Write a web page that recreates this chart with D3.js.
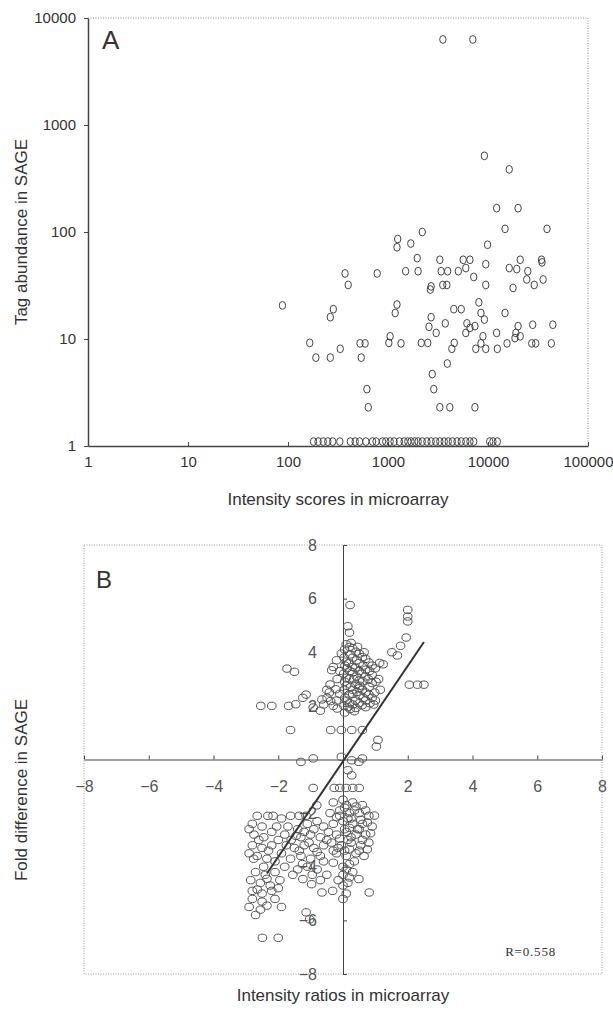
<!DOCTYPE html>
<html>
<head>
<meta charset="utf-8">
<script src="https://cdn.jsdelivr.net/npm/d3@7"></script>
<style>
  body { margin: 0; background: #fff; }
  text { font-family: "Liberation Sans", Arial, sans-serif; fill: #333; }
  .axis path, .axis line { stroke: #444; }
</style>
</head>
<body>
<div id="chart"></div>
<script>
// ---- panel A data: microarray intensity vs SAGE tag count ----
var tickA = [1, 10, 100, 1000, 10000, 100000];
var tickAy = [1, 10, 100, 1000, 10000];
var pointsA = [
  [3540,6300],[7050,6300],[9200,515],[16300,385],
  [12200,167],[20000,167],[14800,107],[38900,107],[2200,100],
  [1250,86],[1230,72],[1690,78],[9900,76],[1960,57],[3300,55],[5650,55],[6600,55],[21000,55],[34300,55],[34700,52],
  [372,41],[780,41],[1500,43],[2000,43],[3400,43],[3950,43],[5050,43],[6000,46],[9500,50],[16300,46],[19400,45],[25000,43],
  [400,32],[2700,31],[2650,29],[3530,32],[3880,32],[7200,38],[9500,32],[17800,30],[24400,36],[29000,32],[35600,36],
  [88,20.6],[1230,21],[1180,17.5],[284,19],[265,16],[4550,19],[5400,19],[8100,22],[8500,17.5],[14800,17.5],
  [2700,16],[2570,13],[3740,14],[3030,11.4],[6150,14],[6600,12.7],[6000,11.4],[7400,13.2],[9200,15.2],[8900,10.6],
  [12200,11.4],[19000,11.4],[20000,13.2],[28000,13.6],[44500,13.6],
  [165,9.2],[190,6.7],[265,6.7],[333,8.1],[525,9.1],[590,9.1],[540,6.7],[1050,10.6],[1020,9.2],[1350,9.1],
  [2150,9.2],[2500,9.2],[4350,8.1],[4600,9.2],[7550,8.1],[8500,9.1],[9500,8.1],[12400,8.1],[15500,9.1],
  [18600,10.2],[21000,10.6],[27400,9.1],[30000,9.1],[43000,9.1],
  [2770,4.7],[3920,5.9],[2870,3.4],[615,3.4],[635,2.3],[3300,2.3],[4150,2.3],[7400,2.3]
];
// genes with a single tag, sitting on the bottom axis
var floorA = [180,200,225,250,280,330,420,470,520,600,700,760,880,950,1050,1150,1300,1450,1580,1700,
  1850,2000,2200,2450,2700,3000,3300,3650,4000,4400,4900,5400,6000,6600,7200,10400,11200,12400];
var floorValue = 1.1;

// ---- panel B data: log2 ratios ----
var tickB = [-8, -6, -4, -2, 2, 4, 6, 8];
var pointsB = [
  // upper group
  [0.22,5.76],[2.0,5.58],[2.0,5.33],[2.0,5.15],[0.15,4.97],[0.2,4.73],
  [1.95,4.55],[1.78,4.24],[1.51,4.0],[1.68,3.88],[1.13,3.6],[1.24,3.55],
  [-1.73,3.39],[-1.5,3.27],[-0.3,3.45],[-0.35,3.33],
  [2.05,2.79],[2.3,2.79],[2.5,2.79],
  [-2.54,2.0],[-2.2,2.0],[-1.68,2.0],[-1.46,2.06],[-1.24,2.3],[-1.14,2.42],
  [-0.92,1.94],[-0.7,1.82],[-0.65,2.24],[-0.49,2.3],
  [0.05,4.1],[0.03,3.8],[0.06,3.5],[0.02,3.2],[0.05,2.9],[0.04,2.6],[0.06,2.3],[0.03,2.0],[0.05,1.75],
  [0.2,4.2],[0.22,3.92],[0.18,3.6],[0.21,3.3],[0.2,3.02],[0.23,2.7],[0.19,2.42],[0.2,2.1],[0.22,1.88],
  [0.4,4.02],[0.42,3.7],[0.38,3.42],[0.41,3.1],[0.4,2.8],[0.43,2.52],[0.39,2.2],[0.4,1.92],
  [0.6,3.82],[0.62,3.5],[0.58,3.2],[0.61,2.92],[0.6,2.6],[0.63,2.3],[0.59,2.02],
  [0.8,3.62],[0.82,3.3],[0.78,3.0],[0.81,2.7],[0.8,2.42],[0.83,2.1],
  [1.0,3.4],[1.02,2.9],[0.98,2.5],[1.0,2.2],
  [-0.2,3.7],[-0.18,3.0],[-0.22,2.62],[-0.2,2.2],[-0.18,1.9],
  [-0.4,2.8],[-0.42,2.5],[-0.38,2.18],
  [0.3,3.8],[0.5,3.3],[0.7,2.5],[0.3,2.6],[0.5,2.1],[0.12,3.4],[0.33,3.0],[0.52,2.75],
  [0.1,4.3],[0.3,4.15],[0.5,3.95],[0.7,3.75],[0.9,3.5],[0.1,3.65],[0.3,3.45],[0.5,3.6],[0.7,3.35],
  [0.9,3.15],[0.1,3.05],[0.3,3.25],[0.5,2.95],[0.7,3.1],[0.9,2.85],[0.1,2.75],[0.3,2.45],[0.5,2.65],
  [0.7,2.2],[0.9,2.3],[0.1,2.2],[0.3,2.05],[0.5,2.4],[0.7,1.95],[0.15,1.95],[0.35,1.8],[-0.1,2.45],
  [-0.1,3.3],[-0.05,3.95],[0.25,4.35],[0.45,4.2],[0.65,4.0],[1.1,3.0],[1.15,2.6],[0.95,2.05],
  [-0.3,2.0],[-0.5,2.6],[-0.6,2.05],
  [-1.62,1.1],[-0.38,1.1],[-0.05,1.1],[0.27,1.1],[0.6,1.1],
  [1.08,0.73],[1.03,0.48],
  [-1.3,-0.09],[-0.92,0.04],[-0.05,0.1],[0.27,-0.03],[0.49,-0.09],[0.6,0.04],[0.15,-0.4],[0.27,-0.59],
  // lower group
  [-0.92,-1.06],[-0.27,-1.06],[-0.1,-1.06],[0.1,-1.06],[0.3,-1.06],[0.5,-1.06],[-0.81,-1.71],
  [-2.65,-2.1],[-2.32,-2.1],[-2.16,-2.1],[-2.8,-2.4],[-2.5,-2.5],[-2.75,-2.8],[-2.45,-2.9],[-2.2,-2.7],
  [-2.8,-3.2],[-2.5,-3.3],[-2.2,-3.2],[-2.0,-3.0],[-2.65,-3.6],[-2.35,-3.7],[-2.76,-3.7],[-2.1,-3.8],
  [-1.9,-3.5],[-2.7,-4.2],[-2.4,-4.3],[-2.1,-4.2],[-2.55,-4.6],[-2.25,-4.7],[-1.95,-4.5],[-2.8,-4.9],
  [-2.5,-5.0],[-2.2,-4.9],[-2.8,-5.2],[-2.5,-5.3],[-2.1,-5.2],[-2.55,-5.6],[-2.49,-6.65],[-2.0,-6.65],
  [-1.62,-2.1],[-1.35,-2.1],[-1.14,-2.1],[-1.7,-2.5],[-1.4,-2.6],[-1.1,-2.4],[-0.8,-2.3],[-0.6,-2.5],
  [-1.6,-3.0],[-1.3,-2.9],[-1.0,-2.8],[-0.7,-2.9],[-1.5,-3.3],[-1.2,-3.2],[-0.9,-3.3],[-0.6,-3.2],
  [-1.62,-3.7],[-1.3,-3.6],[-1.0,-3.7],[-0.7,-3.6],[-1.4,-4.1],[-1.1,-4.0],[-0.8,-4.1],
  [-1.24,-4.46],[-0.97,-4.65],[-0.7,-4.5],[-0.65,-4.96],[-1.14,-5.7],[-1.03,-5.96],[-0.5,-4.3],[-0.32,-4.9],
  [-0.3,-1.6],[0.0,-1.5],[0.3,-1.6],[0.6,-1.7],[-0.4,-2.0],[-0.1,-1.9],[0.2,-2.0],[0.5,-2.0],[0.8,-2.1],
  [-0.3,-2.4],[0.0,-2.3],[0.3,-2.4],[0.6,-2.4],[0.9,-2.5],[-0.2,-2.8],[0.1,-2.7],[0.4,-2.8],[0.7,-2.8],
  [-0.35,-3.1],[-0.05,-3.2],[0.25,-3.1],[0.55,-3.2],[0.8,-3.1],[-0.2,-3.5],[0.1,-3.6],[0.4,-3.5],[0.65,-3.6],
  [0.0,-4.0],[0.2,-3.9],[0.0,-4.3],[0.3,-4.2],[0.0,-4.7],[0.49,-4.46],[0.0,-5.2],[0.81,-4.96],[0.97,-2.09],[0.15,-4.6],
  [0.05,-1.8],[0.15,-2.2],[0.05,-2.6],[0.15,-3.0],[0.05,-3.4],[-0.1,-2.1],[0.35,-1.9],[0.45,-2.6],[-0.15,-3.3],
  [0.1,-1.7],[0.4,-1.75],[0.7,-1.9],[-0.2,-2.15],[0.25,-2.2],[0.55,-2.25],[0.75,-2.35],[-0.45,-2.7],[0.2,-2.55],
  [0.5,-2.6],[0.85,-2.75],[-0.1,-2.95],[0.25,-2.9],[0.6,-3.0],[-0.3,-3.4],[0.2,-3.35],[0.5,-3.4],[0.75,-3.35],
  [-0.5,-3.0],[-0.6,-3.8],[-0.3,-3.85],[0.35,-3.8],[0.1,-4.1],[-0.15,-4.5],[0.2,-4.4],[0.1,-5.0],
  [-0.9,-2.6],[-1.2,-2.7],[-1.45,-2.85],[-1.8,-2.8],[-1.75,-3.2],[-1.35,-3.4],[-1.05,-3.1],[-0.8,-3.45],
  [-1.8,-4.0],[-1.55,-4.3],[-1.25,-3.9],[-0.95,-4.3],[-2.9,-2.6],[-2.6,-3.0],[-2.3,-3.4],[-2.9,-3.5],
  [-2.45,-4.0],[-2.85,-4.5],[-2.35,-4.45],[-2.65,-4.85],[-2.0,-4.8],[-2.35,-5.45],[-2.9,-5.5],[-2.7,-5.8],
  [-1.9,-5.5],[-2.05,-2.5],[-1.9,-2.2]
];
var fitSlope = 1.78, fitIntercept = -0.07, fitRange = [-2.35, 2.5];
var corrLabel = "R=0.558";

var svg = d3.select("#chart").append("svg")
    .attr("width", 613)
    .attr("height", 1019);

// ================= panel A =================
var xA = d3.scaleLog().domain([1, 100000]).range([88, 588]);
var yA = d3.scaleLog().domain([1, 10000]).range([446, 18]);

var gA = svg.append("g");

// dotted top/right frame
gA.append("path")
    .attr("d", "M" + xA(1) + "," + yA(10000) + "H" + xA(100000) + "V" + yA(1))
    .attr("fill", "none")
    .attr("stroke", "#888")
    .attr("stroke-dasharray", "1,1.5");

gA.append("g")
    .attr("class", "axis")
    .attr("transform", "translate(0," + yA(1) + ")")
    .call(d3.axisBottom(xA).tickValues(tickA).tickFormat(d3.format("d"))
      .tickSizeInner(-4).tickSizeOuter(0).tickPadding(10))
    .call(function(g) {
      g.select(".domain").attr("stroke-width", 1.5);
      g.selectAll("text").attr("font-size", 15);
    });

gA.append("g")
    .attr("class", "axis")
    .attr("transform", "translate(" + xA(1) + ",0)")
    .call(d3.axisLeft(yA).tickValues(tickAy).tickFormat(d3.format("d"))
      .tickSizeInner(4).tickSizeOuter(0).tickPadding(8))
    .call(function(g) {
      g.select(".domain").attr("stroke-width", 1.5);
      g.selectAll("text").attr("font-size", 15);
    });

gA.selectAll(".ptA")
    .data(pointsA)
  .enter().append("ellipse")
    .attr("class", "ptA")
    .attr("cx", function(d) { return xA(d[0]); })
    .attr("cy", function(d) { return yA(d[1]); })
    .attr("rx", 3.2)
    .attr("ry", 3.9)
    .attr("fill", "none")
    .attr("stroke", "#444")
    .attr("stroke-width", 1);

gA.selectAll(".floorA")
    .data(floorA)
  .enter().append("ellipse")
    .attr("class", "floorA")
    .attr("cx", function(d) { return xA(d); })
    .attr("cy", yA(floorValue))
    .attr("rx", 3.2)
    .attr("ry", 3.9)
    .attr("fill", "none")
    .attr("stroke", "#444")
    .attr("stroke-width", 1);

gA.append("text")
    .attr("x", 102).attr("y", 49)
    .attr("font-size", 26)
    .text("A");

gA.append("text")
    .attr("transform", "translate(27,232) rotate(-90)")
    .attr("text-anchor", "middle")
    .attr("font-size", 17)
    .text("Tag abundance in SAGE");

gA.append("text")
    .attr("x", 338).attr("y", 505)
    .attr("text-anchor", "middle")
    .attr("font-size", 17)
    .text("Intensity scores in microarray");

// ================= panel B =================
var xB = d3.scaleLinear().domain([-8, 8]).range([84, 602]);
var yB = d3.scaleLinear().domain([-8, 8]).range([974, 545]);

var gB = svg.append("g");

gB.append("rect")
    .attr("x", xB(-8)).attr("y", yB(8))
    .attr("width", xB(8) - xB(-8))
    .attr("height", yB(-8) - yB(8))
    .attr("fill", "none")
    .attr("stroke", "#999")
    .attr("stroke-dasharray", "1,1.5");

gB.append("g")
    .attr("class", "axis")
    .attr("transform", "translate(0," + yB(0) + ")")
    .call(d3.axisBottom(xB).tickValues(tickB)
      .tickSizeInner(-4).tickSizeOuter(0).tickPadding(21))
    .call(function(g) {
      g.selectAll("text").attr("font-size", 16).style("fill", "#555");
    });

gB.append("g")
    .attr("class", "axis")
    .attr("transform", "translate(" + xB(0) + ",0)")
    .call(d3.axisLeft(yB).tickValues(tickB)
      .tickSizeInner(-4).tickSizeOuter(0).tickPadding(26))
    .call(function(g) {
      g.selectAll("text").attr("font-size", 16).style("fill", "#555");
    });

gB.selectAll(".ptB")
    .data(pointsB)
  .enter().append("ellipse")
    .attr("class", "ptB")
    .attr("cx", function(d) { return xB(d[0]); })
    .attr("cy", function(d) { return yB(d[1]); })
    .attr("rx", 4.3)
    .attr("ry", 3.7)
    .attr("fill", "none")
    .attr("stroke", "#555")
    .attr("stroke-width", 1);

var fitLine = d3.line()
    .x(function(d) { return xB(d); })
    .y(function(d) { return yB(fitSlope * d + fitIntercept); });

gB.append("path")
    .datum(fitRange)
    .attr("d", fitLine)
    .attr("fill", "none")
    .attr("stroke", "#333")
    .attr("stroke-width", 2);

gB.append("text")
    .attr("x", 96).attr("y", 588)
    .attr("font-size", 24)
    .text("B");

gB.append("text")
    .attr("x", 556).attr("y", 956)
    .attr("text-anchor", "end")
    .attr("font-size", 13)
    .attr("letter-spacing", 0.8)
    .style("font-family", "'Liberation Serif', serif")
    .text(corrLabel);

gB.append("text")
    .attr("transform", "translate(27,790) rotate(-90)")
    .attr("text-anchor", "middle")
    .attr("font-size", 17)
    .text("Fold difference in SAGE");

gB.append("text")
    .attr("x", 343).attr("y", 1001)
    .attr("text-anchor", "middle")
    .attr("font-size", 17)
    .text("Intensity ratios in microarray");
</script>
</body>
</html>
